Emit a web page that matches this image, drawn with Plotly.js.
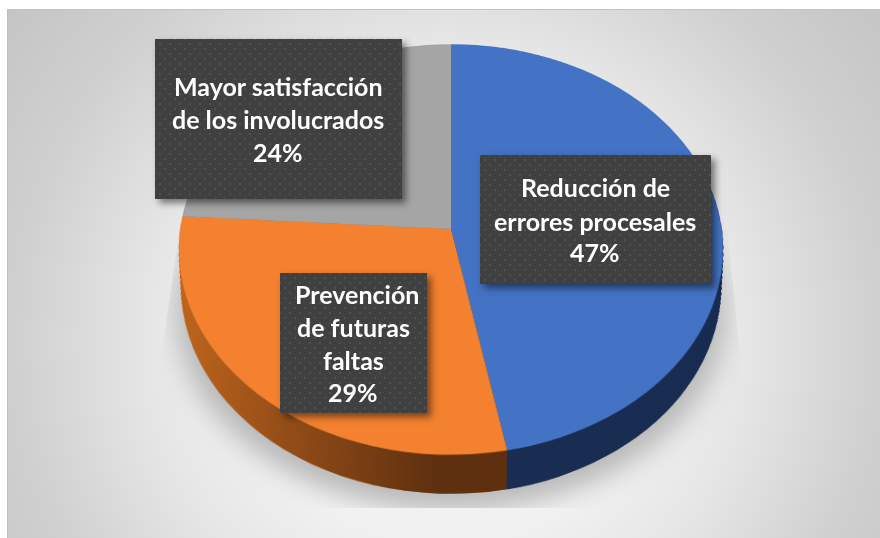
<!DOCTYPE html>
<html lang="es">
<head>
<meta charset="utf-8">
<script src="https://cdn.plot.ly/plotly-3.0.1.min.js"></script>
<style>
html,body{margin:0;padding:0;width:880px;height:538px;overflow:hidden;background:#fff}
#frame{position:absolute;left:7px;top:9px;width:873px;height:529px;overflow:hidden;
  background:radial-gradient(circle at 438px 331px,#f3f3f3 0,#f1f1f1 200px,#e6e6e6 300px,#d0d0d0 430px,#c0c0c0 600px);
  border-left:1px solid #bdbdbd;border-top:1px solid #c4c4c4;box-sizing:border-box}
#shadowClip{position:absolute;left:0;top:0;width:880px;height:538px;
  clip-path:polygon(183px 205px,160px 365px,160px 508px,745px 508px,741px 365px,725px 205px)}
#shadowEll{position:absolute;left:176px;top:112px;width:550px;height:398px;border-radius:50%;background:#b8b8b8;filter:blur(13px)}
.pie{position:absolute;left:101px;top:-121px;width:700px;height:700px;
  transform:perspective(1790px) rotateX(41.3deg);transform-origin:50% 50%}
#wallB{-webkit-mask-image:linear-gradient(to right,transparent 11%,#000 48%);mask-image:linear-gradient(to right,transparent 11%,#000 48%)}
.box{position:absolute;background-color:#404040;box-shadow:4px 4px 7px rgba(0,0,0,.5);
  background-image:radial-gradient(circle,#505050 1px,transparent 1.5px),radial-gradient(circle,#505050 1px,transparent 1.5px);
  background-size:10px 10px;background-position:0 0,5px 5px}
#labels{position:absolute;left:0;top:0;width:880px;height:538px}
</style>
</head>
<body>
<div id="frame"></div>
<div id="shadowClip"><div id="shadowEll"></div></div>
<div id="wallA" class="pie"></div>
<div id="wallB" class="pie"></div>
<div id="top" class="pie"></div>
<div class="box" style="left:155px;top:39px;width:247px;height:160px"></div>
<div class="box" style="left:280px;top:273px;width:147px;height:140px"></div>
<div class="box" style="left:480px;top:155px;width:231px;height:129px"></div>
<div id="labels"></div>
<script>
// Data
const categories = ["Reducción de errores procesales", "Prevención de futuras faltas", "Mayor satisfacción de los involucrados"];
const values = [47, 29, 24];
const topColors = ["#4472c4", "#f4812f", "#a5a5a5"];
const wallLightColors = ["#1a2d52", "#c4691f", "#6b6b6b"];
const wallDarkColors = ["#1a2d52", "#5f3010", "#6b6b6b"];
const labelLines = [
  ["Reducción de", "errores procesales"],
  ["Prevención", "de futuras", "faltas"],
  ["Mayor satisfacción", "de los involucrados"]
];

// Layout constants
const SIZE = 700, RADIUS = 270.6, DEPTH = 48, STEP = 1.5, SHRINK = 0.025;
const labelX = [[595, 595, 595], [357, 353, 353, 353], [278, 278, 278]];
const labelY = [[187, 221, 252], [294, 327, 360, 392], [86, 119, 152]];

function pieTrace(colors, shift) {
  const r = RADIUS * (1 - SHRINK * shift / DEPTH) / SIZE;
  const s = shift / SIZE;
  return {
    type: "pie", labels: categories, values: values, sort: false,
    direction: "clockwise", rotation: 0, textinfo: "none", hoverinfo: "skip",
    showlegend: false, marker: {colors: colors, line: {width: 0}},
    domain: {x: [0.5 - r, 0.5 + r], y: [0.5 - r - s, 0.5 + r - s]}
  };
}
function wall(colors) {
  const traces = [];
  for (let d = DEPTH; d > 0; d -= STEP) traces.push(pieTrace(colors, d));
  return traces;
}
const pieLayout = {
  width: SIZE, height: SIZE, margin: {l: 0, r: 0, t: 0, b: 0},
  paper_bgcolor: "rgba(0,0,0,0)", plot_bgcolor: "rgba(0,0,0,0)", showlegend: false
};
const cfg = {displayModeBar: false, staticPlot: true};
Plotly.newPlot("wallA", wall(wallLightColors), pieLayout, cfg);
Plotly.newPlot("wallB", wall(wallDarkColors), pieLayout, cfg);
Plotly.newPlot("top", [pieTrace(topColors, 0)], pieLayout, cfg);

const annotations = [];
labelLines.forEach((lines, i) => {
  lines.concat([values[i] + "%"]).forEach((t, j) => {
    annotations.push({
      text: t, xref: "paper", yref: "paper", showarrow: false,
      x: labelX[i][j] / 880, y: 1 - labelY[i][j] / 538,
      xanchor: "center", yanchor: "middle",
      font: {family: "Lato, sans-serif", size: 25, color: "#ffffff", weight: 700}
    });
  });
});
Plotly.newPlot("labels", [], {
  width: 880, height: 538, margin: {l: 0, r: 0, t: 0, b: 0},
  paper_bgcolor: "rgba(0,0,0,0)", plot_bgcolor: "rgba(0,0,0,0)",
  xaxis: {visible: false}, yaxis: {visible: false}, annotations: annotations
}, cfg);
</script>
</body>
</html>
